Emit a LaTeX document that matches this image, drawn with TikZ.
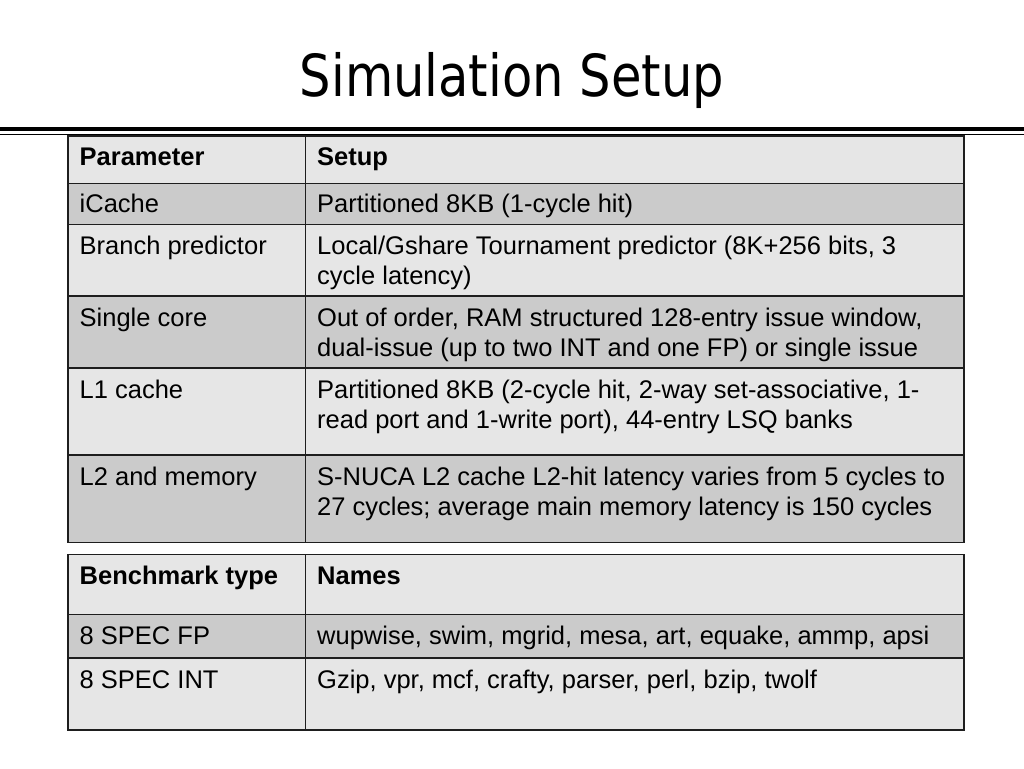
\documentclass[tikz,border=0pt]{standalone}
\usepackage{fontspec}
\setmainfont{Liberation Sans}
\newfontfamily\titlefont{DejaVu Sans Condensed}
\definecolor{cellA}{HTML}{E6E6E6}
\definecolor{cellB}{HTML}{CBCBCB}
\definecolor{rule}{HTML}{1E1E1E}
\begin{document}
\begin{tikzpicture}[x=1pt,y=-1pt,
  cell/.style={anchor=base west,inner sep=0pt,font=\fontsize{25.5}{30}\selectfont},
  hcell/.style={cell,font=\fontsize{25.5}{30}\selectfont\bfseries},
  grid/.style={draw=rule,line width=1.5pt}]
\useasboundingbox (0,0) rectangle (1024,768);
\fill[white] (0,0) rectangle (1024,768);
% title
\node[anchor=base,inner sep=0pt,font=\titlefont\fontsize{58}{60}\selectfont,xscale=0.95] (title) at (512,96) {Simulation Setup};
\draw[line width=3.8pt] (0,129.2) -- (1024,129.2);
\draw[line width=1.4pt] (0,134.7) -- (1024,134.7);
% table 1 backgrounds
\fill[cellA] (68,136) rectangle (964,183.5);
\fill[cellB] (68,183.5) rectangle (964,224.5);
\fill[cellA] (68,224.5) rectangle (964,296);
\fill[cellB] (68,296) rectangle (964,368);
\fill[cellA] (68,368) rectangle (964,455);
\fill[cellB] (68,455) rectangle (964,542.5);
% table 2 backgrounds
\fill[cellA] (68,554.3) rectangle (964,614.3);
\fill[cellB] (68,614.3) rectangle (964,658);
\fill[cellA] (68,658) rectangle (964,730);
% grid table 1
\draw[grid] (68,136) rectangle (964,542.5);
\foreach \yy in {183.5,224.5,296,368,455} \draw[grid] (68,\yy) -- (964,\yy);
\draw[grid] (305.7,136) -- (305.7,542.5);
% grid table 2
\draw[grid] (68,554.3) rectangle (964,730);
\foreach \yy in {614.3,658} \draw[grid] (68,\yy) -- (964,\yy);
\draw[grid] (305.7,554.3) -- (305.7,730);
% table 1 text
\node[hcell] (p0) at (79.5,165) {Parameter};
\node[hcell] (s0) at (317,165) {Setup};
\node[cell] (p1) at (79.5,212.5) {iCache};
\node[cell] (s1) at (317,212.5) {Partitioned 8KB (1-cycle hit)};
\node[cell] (p2) at (79.5,254.5) {Branch predictor};
\node[cell] (s2a) at (317,254.5) {Local/Gshare Tournament predictor (8K+256 bits, 3};
\node[cell] (s2b) at (317,284.5) {cycle latency)};
\node[cell] (p3) at (79.5,326.5) {Single core};
\node[cell] (s3a) at (317,326.5) {Out of order, RAM structured 128-entry issue window,};
\node[cell] (s3b) at (317,356.5) {dual-issue (up to two INT and one FP) or single issue};
\node[cell] (p4) at (79.5,398.5) {L1 cache};
\node[cell] (s4a) at (317,398.5) {Partitioned 8KB (2-cycle hit, 2-way set-associative, 1-};
\node[cell] (s4b) at (317,428.5) {read port and 1-write port), 44-entry LSQ banks};
\node[cell] (p5) at (79.5,485.5) {L2 and memory};
\node[cell] (s5a) at (317,485.5) {S-NUCA L2 cache L2-hit latency varies from 5 cycles to};
\node[cell] (s5b) at (317,515.5) {27 cycles; average main memory latency is 150 cycles};
% table 2 text
\node[hcell] (b0) at (79.5,584.5) {Benchmark type};
\node[hcell] (n0) at (317,584.5) {Names};
\node[cell] (b1) at (79.5,644) {8 SPEC FP};
\node[cell] (n1) at (317,644) {wupwise, swim, mgrid, mesa, art, equake, ammp, apsi};
\node[cell] (b2) at (79.5,688.5) {8 SPEC INT};
\node[cell] (n2) at (317,688.5) {Gzip, vpr, mcf, crafty, parser, perl, bzip, twolf};
\end{tikzpicture}
\end{document}
